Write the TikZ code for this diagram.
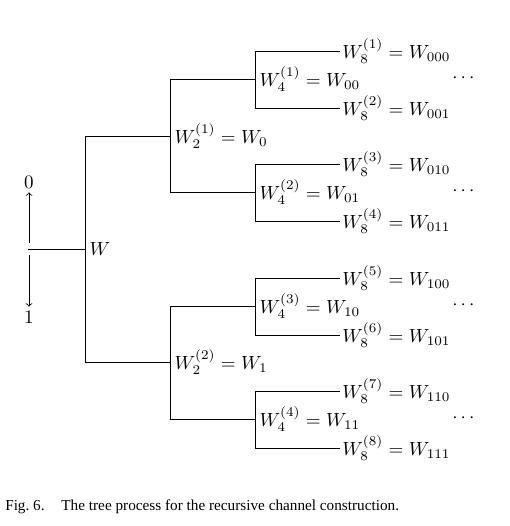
\documentclass[tikz,border=0pt]{standalone}
\usepackage[no-math]{fontspec}
\newfontfamily\capfont{Liberation Serif}
\usepackage{amsmath}

\begin{document}
\begin{tikzpicture}
  [x=0.525pt,y=-0.525pt,every node/.style={inner sep=1pt},
   lbl/.style={anchor=west},
   mid/.style={anchor=west,inner sep=2.2pt}]
  \useasboundingbox (0,0) rectangle (510,526);

  % leaves
  \foreach \i/\y/\b in {1/51/000,2/108/001,3/164/010,4/221/011,5/278/100,6/335/101,7/391/110,8/448/111}
    \node[lbl] (l\i) at (340,\y) {$W_8^{(\i)} = W_{\b}$};

  % second level
  \foreach \i/\y/\b in {1/79/00,2/192/01,3/306/10,4/419/11}
    \node[mid] (m\i) at (255,\y) {$W_4^{(\i)} = W_{\b}$};

  \node[mid] (w21) at (170,136) {$W_2^{(1)} = W_0$};
  \node[mid] (w22) at (170,362) {$W_2^{(2)} = W_1$};
  \node[mid] (w) at (85,249) {$W$};

  \foreach \y [count=\k] in {78,191,305,418}
    \node (d\k) at (465,\y) {$\cdots$};

  \foreach \from/\to in {l1/l2,l3/l4,l5/l6,l7/l8,m1/m2,m3/m4,w21/w22}
    \draw (\from.west) -- ++(-85,0) |- (\to.west);

  % input and the two directions
  \coordinate (in) at (28,249);
  \coordinate (up) at (29,243);
  \coordinate (dn) at (29,255);
  \node[inner sep=2pt] (zero) at (29,182) {$0$};
  \node[inner sep=2pt] (one) at (29,317) {$1$};
  \draw (in) -- (w.west);
  \draw[->] (up) -- (zero);
  \draw[->] (dn) -- (one);

  \node[anchor=west] (cap) at (3,507) {\capfont\footnotesize Fig.~6.\hspace{1.1em}The tree process for the recursive channel construction.};
\end{tikzpicture}
\end{document}
